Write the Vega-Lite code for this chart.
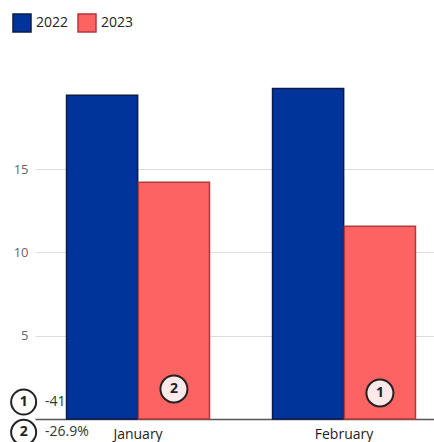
{
  "$schema": "https://vega.github.io/schema/vega-lite/v6.json",
  "autosize": "none",
  "width": 399,
  "height": 351,
  "padding": {"left": 35, "top": 68, "right": 0, "bottom": 23},
  "background": "white",
  "config": {"font": "Open Sans", "view": {"stroke": null}},
  "datasets": {
    "bars": [
      {"month": "January", "year": "2022", "value": 19.42},
      {"month": "January", "year": "2023", "value": 14.2},
      {"month": "February", "year": "2022", "value": 19.83},
      {"month": "February", "year": "2023", "value": 11.56}
    ],
    "ranks": [
      {"month": "January", "year": "2023", "n": "2", "v": 1.8},
      {"month": "February", "year": "2023", "n": "1", "v": 1.56}
    ],
    "key": [
      {"month": "January", "n": "1", "label": "-41.7%", "v": 1.02},
      {"month": "January", "n": "2", "label": "-26.9%", "v": -0.8}
    ]
  },
  "layer": [
    {
      "data": {"name": "key"},
      "mark": {"type": "text", "align": "left", "baseline": "middle", "fontSize": 14, "color": "#333"},
      "encoding": {
        "x": {"field": "month", "type": "nominal", "bandPosition": -0.15,
              "scale": {"domain": ["January", "February"], "paddingInner": 0.306, "paddingOuter": 0.1215, "align": 0.63},
              "axis": {"title": null, "labelAngle": 0, "domainColor": "#555", "domainWidth": 1.5, "ticks": false, "labelFontSize": 14, "labelColor": "#222", "labelPadding": 8}},
        "y": {"field": "v", "type": "quantitative",
              "scale": {"domain": [0, 21.06], "nice": false},
              "axis": {"title": null, "values": [5, 10, 15], "grid": true, "gridColor": "#ddd", "domain": false, "ticks": false, "labelPadding": 7, "labelFontSize": 13, "labelColor": "#666"}},
        "text": {"field": "label"}
      }
    },
    {
      "data": {"name": "key"},
      "mark": {"type": "point", "shape": "circle", "filled": true, "fill": "white", "stroke": "#222", "strokeWidth": 2, "size": 625, "opacity": 1},
      "encoding": {
        "x": {"field": "month", "type": "nominal", "bandPosition": -0.3},
        "y": {"field": "v", "type": "quantitative"}
      }
    },
    {
      "data": {"name": "key"},
      "mark": {"type": "text", "align": "center", "baseline": "middle", "fontSize": 14, "fontWeight": "bold", "color": "#222"},
      "encoding": {
        "x": {"field": "month", "type": "nominal", "bandPosition": -0.3},
        "y": {"field": "v", "type": "quantitative"},
        "text": {"field": "n"}
      }
    },
    {
      "data": {"name": "bars"},
      "mark": {"type": "bar", "strokeWidth": 1.5},
      "encoding": {
        "x": {"field": "month", "type": "nominal"},
        "xOffset": {"field": "year", "type": "nominal", "scale": {"paddingInner": 0.01}},
        "y": {"field": "value", "type": "quantitative"},
        "fill": {"field": "year", "type": "nominal", "title": null,
                 "scale": {"domain": ["2022", "2023"], "range": ["#00349a", "#fe6363"]},
                 "legend": {"orient": "none", "legendX": -23, "legendY": -55, "direction": "horizontal", "symbolType": "square", "symbolSize": 324, "labelFontSize": 14, "labelColor": "#222", "labelOffset": 4, "columnPadding": 6, "symbolStrokeWidth": 1.5}},
        "stroke": {"field": "year", "type": "nominal", "title": null,
                   "scale": {"domain": ["2022", "2023"], "range": ["#0a1a4a", "#b03a3a"]},
                   "legend": {"orient": "none", "legendX": -23, "legendY": -55, "direction": "horizontal", "symbolType": "square", "symbolSize": 324, "labelFontSize": 14, "labelColor": "#222", "labelOffset": 4, "columnPadding": 6, "symbolStrokeWidth": 1.5}}
      }
    },
    {
      "data": {"name": "ranks"},
      "mark": {"type": "point", "shape": "circle", "filled": true, "fill": "#fde8ea", "stroke": "#222", "strokeWidth": 2, "size": 729, "opacity": 1},
      "encoding": {
        "x": {"field": "month", "type": "nominal"},
        "xOffset": {"field": "year", "type": "nominal"},
        "y": {"field": "v", "type": "quantitative"}
      }
    },
    {
      "data": {"name": "ranks"},
      "mark": {"type": "text", "align": "center", "baseline": "middle", "fontSize": 14, "fontWeight": "bold", "color": "#222"},
      "encoding": {
        "x": {"field": "month", "type": "nominal"},
        "xOffset": {"field": "year", "type": "nominal"},
        "y": {"field": "v", "type": "quantitative"},
        "text": {"field": "n"}
      }
    }
  ]
}
